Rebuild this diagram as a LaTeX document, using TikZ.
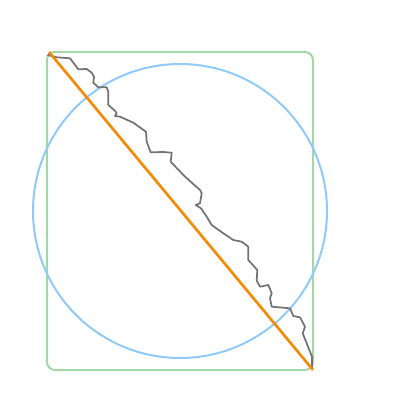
\documentclass[tikz,border=0pt]{standalone}
\begin{document}
\begin{tikzpicture}[x=0.75pt,y=-0.75pt,
  boxline/.style={draw=greenbox, line width=1.5pt, rounded corners=6pt},
  ringline/.style={draw=bluering, line width=1.5pt},
  diagline/.style={draw=orangeline, line width=2pt},
  walkline/.style={draw=black!55, line width=1.3pt, line join=round, line cap=round}]
\definecolor{greenbox}{HTML}{A5D6A7}
\definecolor{bluering}{HTML}{90CAF9}
\definecolor{orangeline}{HTML}{F58A07}
\useasboundingbox (0,0) rectangle (400,400);
\coordinate (tl) at (49,52);
\coordinate (br) at (313,370);
\draw[boxline] (47,52) rectangle (313,370);
\draw[ringline] (180,211) circle (147);
\draw[walkline] (48.3,55) -- (56.7,57.3) -- (70,58.3) -- (78.3,69.3) -- (86.7,69) -- (91.7,72.7) -- (94,76.7) -- (93.3,82.7) -- (98.3,87.3) -- (106.7,87.3) -- (108.3,91.7) -- (108.3,105) -- (115,110.7) -- (116.7,113.3) -- (115,116) -- (120,116.7) -- (133.3,122.7) -- (146,131.7) -- (146.7,141.7) -- (150.7,152.3) -- (163.3,152) -- (171.7,152.7) -- (170.7,161.7) -- (185,176.7) -- (200,190) -- (201.7,193.3) -- (200,203.3) -- (195.7,205) -- (201,208.3) -- (206.7,216.7) -- (211.7,225) -- (223.3,233.3) -- (233.3,240) -- (241.7,241.7) -- (248.3,246.7) -- (248.3,260) -- (257.3,270) -- (256.7,280.7) -- (260,286.7) -- (268.3,285) -- (271.7,293.3) -- (270,298.3) -- (271.7,306.7) -- (290,308.3) -- (293.3,316) -- (300,317.3) -- (305,326.7) -- (302.7,333.3) -- (306.7,343.3) -- (312,356.7) -- (312,369.3);
\fill[black!55] (46.5,55.5) -- (50.5,52.5) -- (51,56.5) -- cycle;
\draw[diagline] (tl) -- (br);
\end{tikzpicture}
\end{document}
